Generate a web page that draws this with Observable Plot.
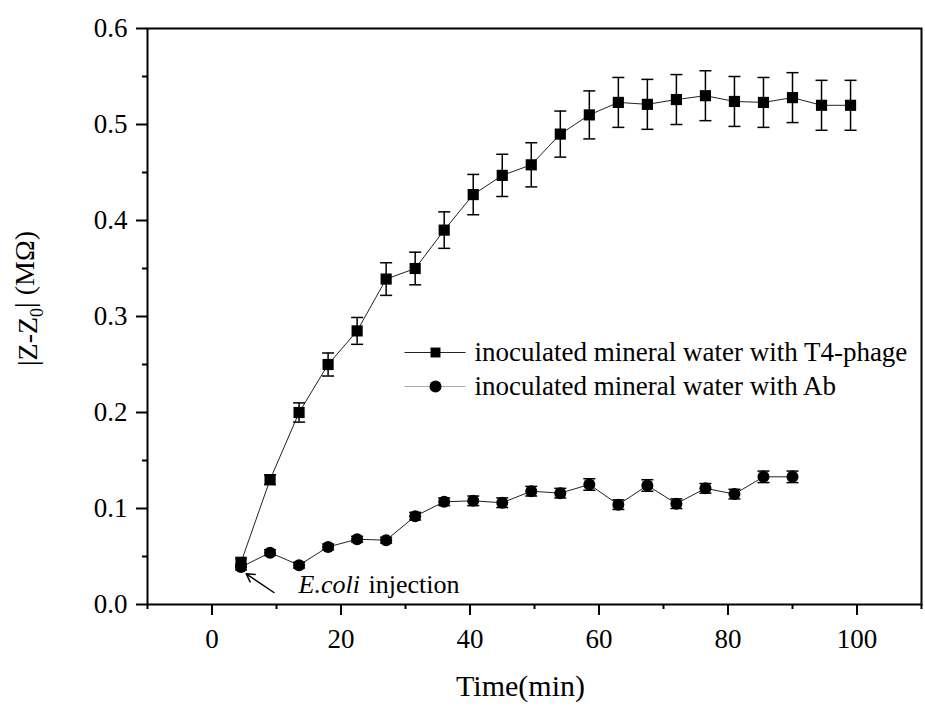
<!DOCTYPE html>
<html>
<head>
<meta charset="utf-8">
<script src="https://cdn.jsdelivr.net/npm/d3@7"></script>
<script src="https://cdn.jsdelivr.net/npm/@observablehq/plot@0.6"></script>
<style>
  html, body { margin: 0; padding: 0; background: #fff; }
  #chart svg { display: block; }
</style>
</head>
<body>
<div id="chart"></div>
<script>
// ---- data ----
const times = [4.5, 9, 13.5, 18, 22.5, 27, 31.5, 36, 40.5, 45, 49.5, 54, 58.5, 63, 67.5, 72, 76.5, 81, 85.5, 90, 94.5, 99];
const phage = [0.044, 0.130, 0.200, 0.250, 0.285, 0.339, 0.350, 0.390, 0.427, 0.447, 0.458, 0.490, 0.510, 0.523, 0.521, 0.526, 0.530, 0.524, 0.523, 0.528, 0.520, 0.520];
const phageErr = [0.004, 0.005, 0.010, 0.012, 0.014, 0.017, 0.017, 0.019, 0.021, 0.022, 0.023, 0.024, 0.025, 0.026, 0.026, 0.026, 0.026, 0.026, 0.026, 0.026, 0.026, 0.026];
const ab = [0.039, 0.054, 0.041, 0.060, 0.068, 0.067, 0.092, 0.107, 0.108, 0.106, 0.118, 0.116, 0.125, 0.104, 0.124, 0.105, 0.121, 0.115, 0.133, 0.133];
const abErr = [0.003, 0.003, 0.003, 0.003, 0.003, 0.003, 0.004, 0.004, 0.005, 0.005, 0.005, 0.005, 0.006, 0.005, 0.006, 0.005, 0.005, 0.005, 0.006, 0.006];
const seriesNames = ["inoculated mineral water with T4-phage", "inoculated mineral water with Ab"];
const xTicks = [0, 20, 40, 60, 80, 100];
const xMinorTicks = [-10, 10, 30, 50, 70, 90, 110];
const yTicks = [0.0, 0.1, 0.2, 0.3, 0.4, 0.5, 0.6];
const yMinorTicks = [0.05, 0.15, 0.25, 0.35, 0.45, 0.55];
const xLabel = "Time(min)";
const yLabel = "|Z-Z0| (MΩ)";
const noteItalic = "E.coli";
const noteRest = "injection";
const arrowFrom = [9.6, 0.0125];
const arrowTo = [5.3, 0.032];

// ---- build tables ----
const phageRows = phage.map((v, i) => ({t: times[i], v, e: phageErr[i]}));
const abRows = ab.map((v, i) => ({t: times[i], v, e: abErr[i]}));

const FONT = "'Liberation Serif', 'Times New Roman', serif";

// custom horizontal-line symbol (error-bar caps and legend line)
const hline = {
  draw(ctx, size) {
    const w = Math.sqrt(size / Math.PI);
    ctx.moveTo(-w, 0);
    ctx.lineTo(w, 0);
  }
};

function errorMarks(rows) {
  return [
    Plot.ruleX(rows, {x: "t", y1: d => d.v - d.e, y2: d => d.v + d.e, stroke: "black", strokeWidth: 1.5}),
    Plot.dot(rows, {x: "t", y: d => d.v + d.e, symbol: hline, r: 6, stroke: "black", strokeWidth: 1.5, fill: "none"}),
    Plot.dot(rows, {x: "t", y: d => d.v - d.e, symbol: hline, r: 6, stroke: "black", strokeWidth: 1.5, fill: "none"})
  ];
}

const chart = Plot.plot({
  width: 925,
  height: 709,
  marginLeft: 147,
  marginRight: 4,
  marginTop: 28,
  marginBottom: 105,
  style: {fontFamily: FONT, background: "#fff", color: "black", overflow: "visible"},
  x: {domain: [-10, 110], label: null},
  y: {domain: [0, 0.6], label: null},
  marks: [
    // axes (major + minor ticks)
    Plot.axisX(xTicks, {tickSize: 11, tickPadding: 13, fontSize: 27, strokeWidth: 2, label: null, tickFormat: d => String(d)}),
    Plot.axisX(xMinorTicks, {tickSize: 5, strokeWidth: 2, label: null, tickFormat: () => ""}),
    Plot.axisY(yTicks, {tickSize: 11, tickPadding: 9, fontSize: 27, strokeWidth: 2, label: null, tickFormat: d3.format(".1f")}),
    Plot.axisY(yMinorTicks, {tickSize: 5, strokeWidth: 2, label: null, tickFormat: () => ""}),
    // series lines
    Plot.line(phageRows, {x: "t", y: "v", stroke: "#222", strokeWidth: 1}),
    Plot.line(abRows, {x: "t", y: "v", stroke: "#222", strokeWidth: 1}),
    // error bars
    ...errorMarks(phageRows),
    ...errorMarks(abRows),
    // markers
    Plot.dot(phageRows, {x: "t", y: "v", symbol: "square", r: 6.3, fill: "black", stroke: "none"}),
    Plot.dot(abRows, {x: "t", y: "v", symbol: "circle", r: 6, fill: "black", stroke: "none"}),
    // legend
    Plot.dot([0], {frameAnchor: "top-left", dx: 287.5, dy: 324, symbol: hline, r: 30.5, stroke: "#222", strokeWidth: 1.2}),
    Plot.dot([0], {frameAnchor: "top-left", dx: 288, dy: 324, symbol: "square", r: 5.6, fill: "black"}),
    Plot.text([seriesNames[0]], {frameAnchor: "top-left", dx: 327, dy: 324, text: d => d, textAnchor: "start", lineAnchor: "middle", fontSize: 27, fill: "black"}),
    Plot.dot([0], {frameAnchor: "top-left", dx: 287.5, dy: 358, symbol: hline, r: 30.5, stroke: "#aaa", strokeWidth: 1.2}),
    Plot.dot([0], {frameAnchor: "top-left", dx: 288, dy: 358, symbol: "circle", r: 6, fill: "black"}),
    Plot.text([seriesNames[1]], {frameAnchor: "top-left", dx: 327, dy: 358, text: d => d, textAnchor: "start", lineAnchor: "middle", fontSize: 27, fill: "black"}),
    // annotation
    Plot.arrow([0], {x1: () => arrowFrom[0], y1: () => arrowFrom[1], x2: () => arrowTo[0], y2: () => arrowTo[1], stroke: "black", strokeWidth: 1.5, headLength: 9}),
    Plot.text([noteItalic], {frameAnchor: "top-left", dx: 151, dy: 556.5, text: d => d, textAnchor: "start", lineAnchor: "middle", fontSize: 26, fontStyle: "italic", fill: "black"}),
    Plot.text([noteRest], {frameAnchor: "top-left", dx: 221, dy: 556.5, text: d => d, textAnchor: "start", lineAnchor: "middle", fontSize: 26, fill: "black"}),
    // axis titles
    Plot.text([xLabel], {frameAnchor: "bottom", dx: -14, dy: 81.5, text: d => d, textAnchor: "middle", lineAnchor: "middle", fontSize: 30, fill: "black"}),
    Plot.text([yLabel], {frameAnchor: "left", dx: -119, dy: -18, text: d => d, rotate: -90, textAnchor: "middle", lineAnchor: "middle", fontSize: 28, fill: "black"}),
    // frame
    Plot.frame({stroke: "black", strokeWidth: 2})
  ]
});

// subscript for the zero in the y label
d3.select(chart).selectAll("text").each(function() {
  if (this.textContent === yLabel) {
    const t = d3.select(this);
    t.text(null);
    t.append("tspan").text("|Z-Z");
    t.append("tspan").attr("dy", "0.3em").attr("font-size", "18").text("0");
    t.append("tspan").attr("dy", "-0.3em").text("| (MΩ)");
  }
});

document.getElementById("chart").appendChild(chart);
</script>
</body>
</html>
